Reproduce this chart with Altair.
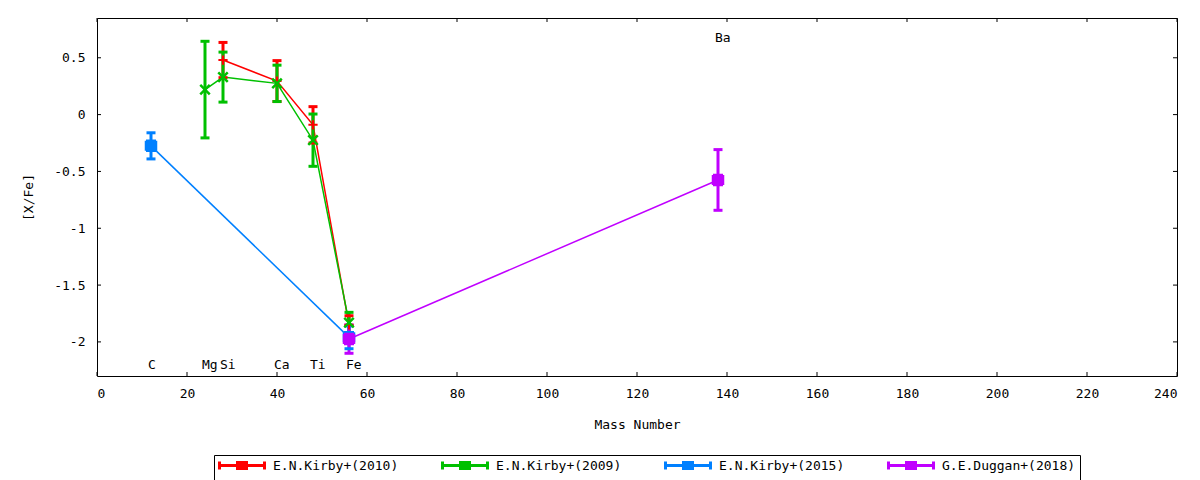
import altair as alt
import pandas as pd

series_names = ["E.N.Kirby+(2010)", "E.N.Kirby+(2009)", "E.N.Kirby+(2015)", "G.E.Duggan+(2018)"]
series_colors = ["#ff0000", "#00c000", "#0080ff", "#c000ff"]

# [X/Fe] per series (mass number, value, error)
k2010_mass = [28, 40, 48, 56]
k2010_val = [0.48, 0.295, -0.09, -1.85]
k2010_err = [0.155, 0.18, 0.16, 0.08]

k2009_mass = [24, 28, 40, 48, 56]
k2009_val = [0.22, 0.33, 0.275, -0.225, -1.83]
k2009_err = [0.425, 0.22, 0.16, 0.23, 0.09]

k2015_mass = [12, 56]
k2015_val = [-0.275, -1.96]
k2015_err = [0.115, 0.10]

d2018_mass = [56, 138]
d2018_val = [-1.975, -0.575]
d2018_err = [0.125, 0.267]

elem_names = ["C", "Mg", "Si", "Ca", "Ti", "Fe", "Ba"]
elem_mass = [12, 24, 28, 40, 48, 56, 138]
elem_label_y = [-2.2, -2.2, -2.2, -2.2, -2.2, -2.2, 0.67]

x_ticks = [0, 20, 40, 60, 80, 100, 120, 140, 160, 180, 200, 220, 240]
y_ticks = [-2, -1.5, -1, -0.5, 0, 0.5]

rows = []
for name, ms, vs, es in zip(series_names,
                            [k2010_mass, k2009_mass, k2015_mass, d2018_mass],
                            [k2010_val, k2009_val, k2015_val, d2018_val],
                            [k2010_err, k2009_err, k2015_err, d2018_err]):
    for m, v, e in zip(ms, vs, es):
        rows.append({"series": name, "mass": m, "val": v, "lo": v - e, "hi": v + e})
df = pd.DataFrame(rows)
labels_df = pd.DataFrame({"el": elem_names, "mass": elem_mass, "y": elem_label_y})
xt_df = pd.DataFrame({"t": x_ticks})
yt_df = pd.DataFrame({"t": y_ticks})

FONT = "DejaVu Sans Mono"
W, H = 1080, 358

xscale = alt.Scale(domain=[0, 240], nice=False, zero=False)
yscale = alt.Scale(domain=[-2.3, 0.85], nice=False, zero=False)
cscale = alt.Scale(domain=series_names, range=series_colors)

X = alt.X("mass:Q", scale=xscale,
          axis=alt.Axis(values=x_ticks, title="Mass Number", ticks=False, domain=False,
                        grid=False, labelPadding=11, titlePadding=18,
                        labelExpr="toString(datum.value)"))
Y = alt.Y("val:Q", scale=yscale,
          axis=alt.Axis(values=y_ticks, title="[X/Fe]", ticks=False, domain=False,
                        grid=False, labelPadding=12, titlePadding=18,
                        labelExpr="toString(datum.value)"))

# legend sample: errorbar line with caps and a small marker (unit = 5 px)
leg_symbol = ("M-1,0H8M-1,-0.8V0.8M8,-0.8V0.8"
              "M2.6,-0.6H4.4M2.6,0.6H4.4M2.6,-0.9V0.9M4.4,-0.9V0.9M3.5,-0.9V0.9")
leg = alt.Legend(title=None, orient="none", legendX=117, legendY=437,
                 direction="horizontal", columns=4,
                 symbolType=leg_symbol, symbolSize=100, symbolStrokeWidth=3,
                 symbolOpacity=1,
                 labelFont=FONT, labelFontSize=13, labelColor="black", labelOffset=42,
                 columnPadding=37, padding=4,
                 strokeColor="black", labelLimit=300)
C = alt.Color("series:N", scale=cscale, legend=leg)

base = alt.Chart(df)

lines = base.mark_line(strokeWidth=1.5).encode(x=X, y=Y, color=C, detail="series:N", order="mass:Q")
bars = base.mark_rule(strokeWidth=3, opacity=1).encode(x="mass:Q", y="lo:Q", y2="hi:Q", color=C)
cap_lo = base.mark_tick(orient="horizontal", size=9, thickness=3, opacity=1).encode(
    x="mass:Q", y="lo:Q", color=C)
cap_hi = base.mark_tick(orient="horizontal", size=9, thickness=3, opacity=1).encode(
    x="mass:Q", y="hi:Q", color=C)

plus_path = "M-1,0H1M0,-1V1"
cross_path = "M-1,-1L1,1M-1,1L1,-1"
square_path = "M-1,-1H1M-1,-0.5H1M-1,0H1M-1,0.5H1M-1,1H1M-1,-1V1M1,-1V1"

m_plus = base.transform_filter(alt.datum.series == series_names[0]).mark_point(
    shape=plus_path, size=85, strokeWidth=2, filled=False, opacity=1).encode(x="mass:Q", y="val:Q", color=C)
m_cross = base.transform_filter(alt.datum.series == series_names[1]).mark_point(
    shape=cross_path, size=90, strokeWidth=2.5, filled=False, opacity=1).encode(x="mass:Q", y="val:Q", color=C)
m_square = base.transform_filter(
    (alt.datum.series == series_names[2]) | (alt.datum.series == series_names[3])).mark_point(
    shape=square_path, size=100, strokeWidth=2.5, filled=False, opacity=1).encode(x="mass:Q", y="val:Q", color=C)

labels = alt.Chart(labels_df).mark_text(font=FONT, fontSize=13, align="left", baseline="middle",
                                         dx=-3, color="black").encode(
    x="mass:Q", y="y:Q", text="el:N")

tick_b = alt.Chart(xt_df).mark_rule(color="black", strokeWidth=1).encode(
    x="t:Q", y=alt.value(H), y2=alt.value(H - 4))
tick_t = alt.Chart(xt_df).mark_rule(color="black", strokeWidth=1).encode(
    x="t:Q", y=alt.value(0), y2=alt.value(4))
tick_l = alt.Chart(yt_df).mark_rule(color="black", strokeWidth=1).encode(
    y="t:Q", x=alt.value(0), x2=alt.value(4))
tick_r = alt.Chart(yt_df).mark_rule(color="black", strokeWidth=1).encode(
    y="t:Q", x=alt.value(W), x2=alt.value(W - 4))

chart = alt.layer(
    lines, bars, cap_lo, cap_hi, m_plus, m_cross, m_square, labels,
    tick_b, tick_t, tick_l, tick_r,
).properties(
    width=W, height=H,
    background="white",
    padding={"left": 14, "top": 9, "right": 5, "bottom": 2},
).configure_view(
    stroke="black", strokeWidth=1
).configure_axis(
    labelFont=FONT, labelFontSize=13, labelColor="black",
    titleFont=FONT, titleFontSize=13, titleColor="black", titleFontWeight="normal",
)

chart.save("out.html", embed_options={"renderer": "svg", "actions": False})
